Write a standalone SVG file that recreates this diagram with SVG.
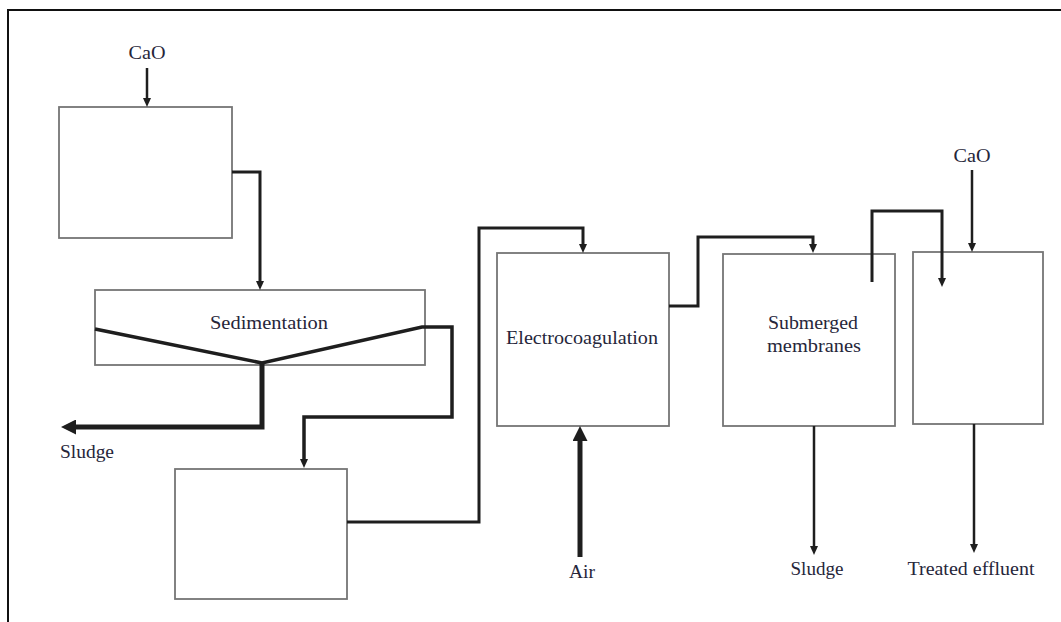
<svg xmlns="http://www.w3.org/2000/svg" width="1061" height="622" viewBox="0 0 1061 622">
  <style>
    .box { fill: #ffffff; stroke: #757575; stroke-width: 1.8; }
    .lbl { font-family: "Liberation Serif", "Times New Roman", serif; font-size: 19px; fill: #26263a; text-anchor: middle; }
    .c { fill: none; stroke: #1e1e1e; stroke-linejoin: miter; }
    .thin { stroke-width: 2.5; }
    .mid { stroke-width: 3; }
    .v { stroke-width: 3.5; }
    .thick { stroke-width: 5; }
  </style>
  <defs>
    <marker id="ah" markerUnits="userSpaceOnUse" markerWidth="9" markerHeight="8" viewBox="0 0 9 8" refX="0.5" refY="4" orient="auto">
      <path d="M0,0 L9,4 L0,8 z" fill="#1e1e1e"/>
    </marker>
    <marker id="ahb" markerUnits="userSpaceOnUse" markerWidth="15" markerHeight="15" viewBox="0 0 15 15" refX="0.5" refY="7.5" orient="auto">
      <path d="M0,0 L15,7.5 L0,15 z" fill="#1e1e1e"/>
    </marker>
  </defs>

  <rect x="8" y="10" width="1060" height="620" fill="#ffffff" stroke="#111111" stroke-width="2"/>

  <g id="mix1">
    <rect class="box" x="59" y="107" width="173" height="131"/>
  </g>
  <g id="sedimentation">
    <rect class="box" x="95" y="290" width="330" height="75"/>
    <text class="lbl" x="269" y="329" textLength="118" lengthAdjust="spacingAndGlyphs">Sedimentation</text>
  </g>
  <g id="tank2">
    <rect class="box" x="175" y="469" width="172" height="130"/>
  </g>
  <g id="electrocoagulation">
    <rect class="box" x="497" y="253" width="172" height="173"/>
    <text class="lbl" x="582" y="344" textLength="152" lengthAdjust="spacingAndGlyphs">Electrocoagulation</text>
  </g>
  <g id="membranes">
    <rect class="box" x="723" y="254" width="172" height="172"/>
    <text class="lbl" x="813" y="329" textLength="90" lengthAdjust="spacingAndGlyphs">Submerged</text>
    <text class="lbl" x="814" y="352" textLength="94" lengthAdjust="spacingAndGlyphs">membranes</text>
  </g>
  <g id="final">
    <rect class="box" x="913" y="252" width="130" height="172"/>
  </g>

  <g id="labels">
    <text class="lbl" x="147" y="59" textLength="37" lengthAdjust="spacingAndGlyphs">CaO</text>
    <text class="lbl" x="972" y="162" textLength="37" lengthAdjust="spacingAndGlyphs">CaO</text>
    <text class="lbl" x="87" y="458" textLength="54" lengthAdjust="spacingAndGlyphs">Sludge</text>
    <text class="lbl" x="582" y="578" textLength="26" lengthAdjust="spacingAndGlyphs">Air</text>
    <text class="lbl" x="817" y="575" textLength="53" lengthAdjust="spacingAndGlyphs">Sludge</text>
    <text class="lbl" x="971" y="575" textLength="127" lengthAdjust="spacingAndGlyphs">Treated effluent</text>
  </g>

  <g id="connectors">
    <path class="c thin" d="M147,68 V98.5" marker-end="url(#ah)"/>
    <path class="c mid" d="M232,172 H260 V281.5" marker-end="url(#ah)"/>
    <path class="c v" d="M95,329 L262,363 L422,327 H452 V417 H304 V459.5" marker-end="url(#ah)"/>
    <path class="c thick" d="M262,363 V427 H75.5" marker-end="url(#ahb)"/>
    <path class="c mid" d="M347,522 H479 V228 H583 V244.5" marker-end="url(#ah)"/>
    <path class="c thick" d="M580,557 V440.5" marker-end="url(#ahb)"/>
    <path class="c mid" d="M669,306 H698 V237 H813 V244.5" marker-end="url(#ah)"/>
    <path class="c mid" d="M872,282 V211 H942 V278.5" marker-end="url(#ah)"/>
    <path class="c thin" d="M972,170 V243.5" marker-end="url(#ah)"/>
    <path class="c thin" d="M814,426 V546.5" marker-end="url(#ah)"/>
    <path class="c thin" d="M974,424 V544.5" marker-end="url(#ah)"/>
  </g>
</svg>
